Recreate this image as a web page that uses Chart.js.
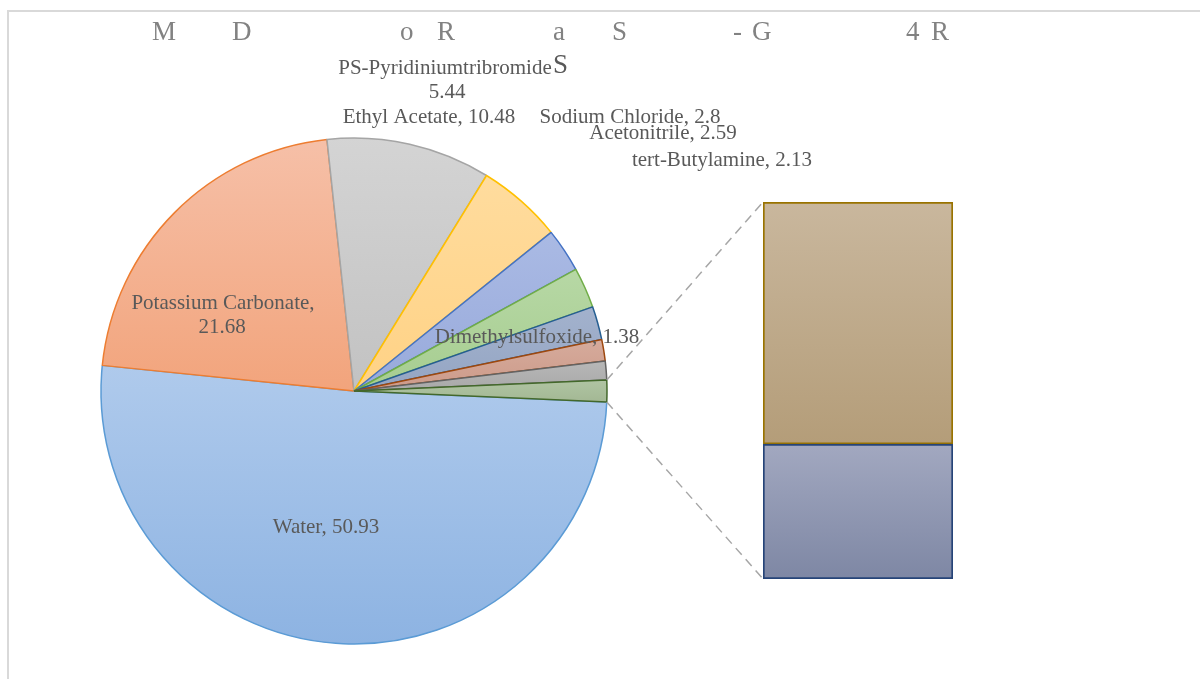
<!DOCTYPE html>
<html>
<head>
<meta charset="utf-8">
<script src="https://cdn.jsdelivr.net/npm/chart.js@4.4.1/dist/chart.umd.min.js"></script>
<style>
  html, body { margin: 0; padding: 0; background: #ffffff; overflow: hidden; }
  #wrap { position: relative; width: 1200px; height: 679px; }
  #wrap canvas { position: absolute; left: 0; top: 0; }
</style>
</head>
<body>
<div id="wrap">
  <canvas id="barCanvas" width="1200" height="679"></canvas>
  <canvas id="pieCanvas" width="1200" height="679"></canvas>
</div>
<script>
// ---- data ----
const categories = [
  'Water', 'Potassium Carbonate', 'Ethyl Acetate', 'PS-Pyridiniumtribromide',
  'Sodium Chloride', 'Acetonitrile', 'tert-Butylamine', 'Dimethylsulfoxide',
  'Minor component'
];
const values = [50.93, 21.68, 10.48, 5.44, 2.8, 2.59, 2.13, 1.38, 1.20];

// the split-out part shown as the stacked column (bottom first)
const barCategories = ['Trace component B', 'Trace component A'];
const barValues = [0.49, 0.88];

// title fragments as they are printed across the top
const titleParts = ['M', 'D', 'o', 'R', 'a', 'S', '-', 'G', '4', 'R'];

// ---- derived ----
const otherValue = barValues.reduce((a, b) => a + b, 0);
const pieLabels = categories.concat(['Other']);
const pieValues = values.concat([otherValue]);
const pieTotal = pieValues.reduce((a, b) => a + b, 0);
// the combined slice sits centred on 3 o'clock, slices run clockwise from it
const pieRotation = 90 + (otherValue / pieTotal) * 180;

// ---- styles ----
const pieStyle = [
  { top: '#AFCAEC', bottom: '#8DB3E2', line: '#5B9BD5' },
  { top: '#F6C0A8', bottom: '#F2A47C', line: '#ED7D31' },
  { top: '#D4D4D4', bottom: '#C2C2C2', line: '#A5A5A5' },
  { top: '#FFDC9E', bottom: '#FFD285', line: '#FFC000' },
  { top: '#AABAE4', bottom: '#98AADB', line: '#4472C4' },
  { top: '#B7D8A5', bottom: '#A6CD90', line: '#70AD47' },
  { top: '#A3B2CD', bottom: '#94A5C3', line: '#255E91' },
  { top: '#D6AB9C', bottom: '#CC9A89', line: '#9E480E' },
  { top: '#B7B7B7', bottom: '#A8A8A8', line: '#636363' },
  { top: '#B0C4A3', bottom: '#A3B894', line: '#43682B' }
];
const barStyle = [
  { top: '#A2A8C0', bottom: '#7E87A4', line: '#264478' },
  { top: '#C9B79D', bottom: '#B49D79', line: '#997300' }
];
const labelFont = '21px "Liberation Serif", "Times New Roman", serif';
const labelColor = '#595959';
const titleFont = '27px "Liberation Serif", "Times New Roman", serif';
const titleColor = '#828282';

// title fragment x positions and baseline
const titleX = [152, 232, 400, 437, 553, 612, 733, 752, 906, 931];
const titleBaseline = 40;

// data label placements
function labelText(i) { return categories[i] + ', ' + values[i]; }
const labelSpots = [
  { text: () => labelText(0), x: 326, y: 527 },
  { text: () => categories[1] + ',', x: 223, y: 303 },
  { text: () => String(values[1]), x: 222, y: 327 },
  { text: () => labelText(2), x: 429, y: 117 },
  { text: () => categories[3], x: 445, y: 68 },
  { text: () => String(values[3]), x: 447, y: 92 },
  { text: () => labelText(4), x: 630, y: 117 },
  { text: () => labelText(5), x: 663, y: 133 },
  { text: () => labelText(6), x: 722, y: 160 },
  { text: () => labelText(7), x: 537, y: 337 }
];

const finite = v => typeof v === 'number' && isFinite(v);

// vertical extent of a pie sector, for per-slice gradients
function sectorYRange(cy, r, a0, a1) {
  const ys = [cy, cy + r * Math.sin(a0), cy + r * Math.sin(a1)];
  for (let k = -2; k <= 4; k++) {
    const down = Math.PI / 2 + k * 2 * Math.PI;
    const up = -Math.PI / 2 + k * 2 * Math.PI;
    if (down > a0 && down < a1) ys.push(cy + r);
    if (up > a0 && up < a1) ys.push(cy - r);
  }
  return [Math.min(...ys), Math.max(...ys)];
}

function pieFill(ctx) {
  const chart = ctx.chart;
  const area = chart.chartArea;
  const st = pieStyle[ctx.dataIndex];
  if (!area || !finite(area.left) || !finite(area.top)) return st.top;
  const cx = (area.left + area.right) / 2;
  const cy = (area.top + area.bottom) / 2;
  const r = Math.min(area.right - area.left, area.bottom - area.top) / 2;
  let before = 0;
  for (let i = 0; i < ctx.dataIndex; i++) before += pieValues[i];
  const base = (pieRotation - 90) * Math.PI / 180;
  const a0 = base + before / pieTotal * 2 * Math.PI;
  const a1 = a0 + pieValues[ctx.dataIndex] / pieTotal * 2 * Math.PI;
  const [y0, y1] = sectorYRange(cy, r, a0, a1);
  if (!finite(y0) || !finite(y1)) return st.top;
  const g = chart.ctx.createLinearGradient(0, y0, 0, Math.max(y1, y0 + 1));
  g.addColorStop(0, st.top);
  g.addColorStop(1, st.bottom);
  return g;
}

function barFill(ctx) {
  const chart = ctx.chart;
  const st = barStyle[ctx.datasetIndex];
  const y = chart.scales && chart.scales.y;
  if (!y) return st.top;
  let lo = 0;
  for (let i = 0; i < ctx.datasetIndex; i++) lo += barValues[i];
  const hi = lo + barValues[ctx.datasetIndex];
  const yTop = y.getPixelForValue(hi);
  const yBot = y.getPixelForValue(lo);
  if (!finite(yTop) || !finite(yBot)) return st.top;
  const g = chart.ctx.createLinearGradient(0, yTop, 0, Math.max(yBot, yTop + 1));
  g.addColorStop(0, st.top);
  g.addColorStop(1, st.bottom);
  return g;
}

// ---- stacked column for the split-out slice ----
const barChart = new Chart(document.getElementById('barCanvas'), {
  type: 'bar',
  data: {
    labels: ['Other'],
    datasets: barValues.map((v, i) => ({
      label: barCategories[i],
      data: [v],
      backgroundColor: barFill,
      borderColor: barStyle[i].line,
      borderWidth: 2,
      borderSkipped: false,
      barPercentage: 1,
      categoryPercentage: 1
    }))
  },
  options: {
    responsive: false,
    animation: false,
    events: [],
    layout: { padding: { left: 763, right: 247, top: 202, bottom: 100 } },
    plugins: { legend: { display: false }, tooltip: { enabled: false }, title: { display: false } },
    scales: {
      x: { display: false, stacked: true },
      y: { display: false, stacked: true, min: 0, max: otherValue }
    }
  }
});

// ---- decorations drawn with the pie ----
const decorations = {
  id: 'decorations',
  beforeDraw(chart) {
    const c = chart.ctx;
    c.save();
    // outer frame
    c.strokeStyle = '#D9D9D9';
    c.lineWidth = 2;
    c.beginPath();
    c.moveTo(8, 700);
    c.lineTo(8, 11);
    c.lineTo(1210, 11);
    c.stroke();
    // title
    c.font = titleFont;
    c.fillStyle = titleColor;
    c.textAlign = 'left';
    c.textBaseline = 'alphabetic';
    titleParts.forEach((t, i) => c.fillText(t, titleX[i], titleBaseline));
    c.restore();
  },
  afterDatasetsDraw(chart) {
    const c = chart.ctx;
    c.save();
    // connector lines from the combined slice to the column
    const arcs = chart.getDatasetMeta(0).data;
    const other = arcs[arcs.length - 1];
    const bottomBar = barChart.getDatasetMeta(0).data[0];
    const topBar = barChart.getDatasetMeta(barValues.length - 1).data[0];
    if (other && bottomBar && topBar) {
      const left = topBar.x - topBar.width / 2;
      const p0 = { x: other.x + other.outerRadius * Math.cos(other.startAngle),
                   y: other.y + other.outerRadius * Math.sin(other.startAngle) };
      const p1 = { x: other.x + other.outerRadius * Math.cos(other.endAngle),
                   y: other.y + other.outerRadius * Math.sin(other.endAngle) };
      c.strokeStyle = '#A6A6A6';
      c.lineWidth = 1.5;
      c.setLineDash([9, 6]);
      c.beginPath();
      c.moveTo(p0.x, p0.y);
      c.lineTo(left, topBar.y);
      c.moveTo(p1.x, p1.y);
      c.lineTo(left, bottomBar.base);
      c.stroke();
      c.setLineDash([]);
    }
    // data labels
    c.font = labelFont;
    c.fillStyle = labelColor;
    c.textAlign = 'center';
    c.textBaseline = 'middle';
    labelSpots.forEach(s => c.fillText(s.text(), s.x, s.y));
    c.font = titleFont;
    c.textAlign = 'left';
    c.fillText('S', 553, 66);
    c.restore();
  }
};

// ---- pie ----
new Chart(document.getElementById('pieCanvas'), {
  type: 'pie',
  data: {
    labels: pieLabels,
    datasets: [{
      data: pieValues,
      backgroundColor: pieFill,
      borderColor: pieStyle.map(s => s.line),
      borderWidth: 1.5
    }]
  },
  options: {
    responsive: false,
    animation: false,
    events: [],
    rotation: pieRotation,
    layout: { padding: { left: 100.25, right: 592.25, top: 137.25, bottom: 34.25 } },
    plugins: { legend: { display: false }, tooltip: { enabled: false }, title: { display: false } }
  },
  plugins: [decorations]
});
</script>
</body>
</html>
